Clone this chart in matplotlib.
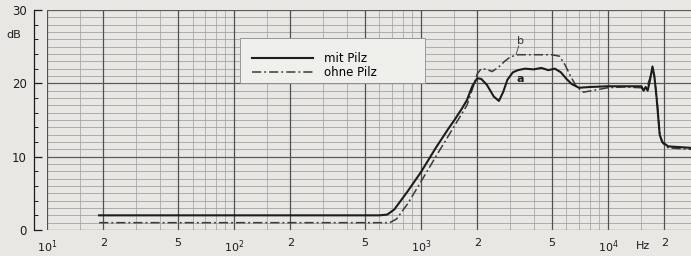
"""
Frequenzgang mit / ohne Pilz -- re-drawn from a scanned measurement chart.
"""

import numpy as np
import matplotlib
matplotlib.use("Agg")
import matplotlib.pyplot as plt
from matplotlib.patches import Rectangle
from matplotlib.ticker import FixedLocator, NullFormatter

# --- data -------------------------------------------------------------------
mit_pilz_hz = [19, 100, 300, 600, 660, 720, 850, 1000, 1200, 1400, 1510, 1650,
               1760, 1880, 2000, 2100, 2250, 2450, 2610, 2750, 2900, 3100,
               3300, 3600, 4000, 4400, 4800, 5200, 5600, 6000, 6400, 7000,
               8000, 10000, 12000, 15100, 15500, 15900, 16300, 16800, 17300,
               17700, 18200, 18900, 19500, 21000, 27900]
mit_pilz_db = [2.0, 2.0, 2.0, 2.0, 2.1, 2.8, 5.3, 7.9, 11.2, 13.8, 15.0, 16.5,
               17.7, 19.6, 20.7, 20.6, 19.8, 18.2, 17.6, 18.8, 20.5, 21.5,
               21.8, 22.0, 21.9, 22.1, 21.8, 22.0, 21.5, 20.6, 19.9, 19.4,
               19.5, 19.6, 19.6, 19.6, 19.0, 19.5, 19.0, 20.5, 22.3,
               21.0, 18.0, 13.0, 12.0, 11.4, 11.2]

ohne_pilz_hz = [19, 300, 680, 740, 850, 1000, 1200, 1510, 1760, 1900, 2000,
                2100, 2250, 2400, 2600, 2800, 3000, 3300, 4000, 5000, 5500,
                5900, 6300, 6800, 7400, 8200, 10000, 12000, 15000, 15600,
                16200, 16800, 17300, 17800, 18400, 19000, 19700, 21000, 27900]
ohne_pilz_db = [1.0, 1.0, 1.0, 1.5, 3.6, 6.6, 10.0, 14.2, 17.0, 19.5, 21.3,
                22.0, 21.9, 21.6, 22.2, 23.0, 23.6, 23.9, 23.9, 23.9, 23.7,
                22.5, 21.0, 19.5, 18.8, 19.0, 19.4, 19.5, 19.4, 19.2,
                19.6, 20.8, 22.0, 20.6, 17.0, 12.8, 11.8, 11.2, 11.0]

x_tick_hz = [10, 20, 50, 100, 200, 500, 1000, 2000, 5000, 10000, 20000]
x_tick_labels = ["$10^1$", "2", "5", "$10^2$", "2", "5", "$10^3$", "2", "5",
                 "$10^4$", "2"]
y_major = [0, 10, 20, 30]

PAPER = "#e8e7e3"
INK = "#1c1c1c"

fig = plt.figure(figsize=(6.91, 2.56), dpi=100, facecolor=PAPER)
ax = fig.add_axes([47 / 691, 26 / 256, 644 / 691, 220 / 256], facecolor=PAPER)

ax.set_xscale("log")
ax.set_xlim(10, 10 ** 4.444)
ax.set_ylim(0, 30)

# log paper grid
for dec in [10, 100, 1000, 10000]:
    for m in [1.5, 3, 4, 6, 7, 8, 9]:
        if dec * m < 10 ** 4.444:
            ax.axvline(dec * m, color="#aaaaaa", lw=0.6, zorder=0)
    for m in [1, 2, 5]:
        if dec * m < 10 ** 4.444:
            ax.axvline(dec * m, color="#505050", lw=0.9, zorder=0.5)
for v in range(0, 31):
    if v % 10 == 0:
        ax.axhline(v, color="#5a5a5a", lw=0.9, zorder=0.5)
    else:
        ax.axhline(v, color="#a2a2a2", lw=0.6, zorder=0)

ax.plot(mit_pilz_hz, mit_pilz_db, color=INK, lw=1.5, label="mit Pilz", zorder=3)
ax.plot(ohne_pilz_hz, ohne_pilz_db, color="#3a3a3a", lw=1.1,
        dashes=(6, 2, 1.2, 2), label="ohne Pilz", zorder=2)

ax.text(3400, 20.6, "a", fontsize=8, fontweight="bold", color=INK,
        ha="center", va="center")
ax.text(3400, 25.8, "b", fontsize=8, color="#333333", ha="center", va="center")
ax.plot([3230, 3330], [24.0, 25.1], color="#555555", lw=0.7)

# axes cosmetics
for side in ["top", "right", "bottom"]:
    ax.spines[side].set_visible(False)
ax.spines["left"].set_position(("outward", 9.5))
ax.spines["left"].set_color(INK)
ax.spines["left"].set_linewidth(0.9)

ax.xaxis.set_major_locator(FixedLocator(x_tick_hz))
ax.xaxis.set_minor_locator(FixedLocator([]))
ax.set_xticklabels(x_tick_labels)
ax.tick_params(axis="x", length=0, pad=6, labelsize=8, colors=INK)

ax.yaxis.set_major_locator(FixedLocator(y_major))
ax.yaxis.set_minor_locator(FixedLocator(np.arange(0, 31, 2)))
ax.yaxis.set_minor_formatter(NullFormatter())
ax.tick_params(axis="y", which="major", direction="in", length=6, width=0.9,
               pad=5, labelsize=8.5, colors=INK)
ax.tick_params(axis="y", which="minor", direction="in", length=3, width=0.7,
               colors=INK)

fig.text(14 / 691, 1 - 35 / 256, "dB", fontsize=8, color=INK,
         ha="center", va="center")
fig.text(643 / 691, 1 - 246 / 256, "Hz", fontsize=8, color=INK,
         ha="center", va="center")

# legend box: a plain light panel over the grid, legend drawn inside it
panel = Rectangle((240 / 691, 1 - 83 / 256), 185 / 691, 45 / 256,
                  transform=fig.transFigure, facecolor="#efefec",
                  edgecolor="#8a8a8a", lw=0.6, zorder=4)
fig.patches.append(panel)
leg = fig.legend(loc="upper left", bbox_to_anchor=(244 / 691, 1 - 44 / 256),
                 fontsize=8.5, frameon=False, handlelength=5.2,
                 handletextpad=0.9, borderpad=0.15, labelspacing=0.15)
leg.set_zorder(5)

fig.savefig("out.png", dpi=100, facecolor=PAPER)
